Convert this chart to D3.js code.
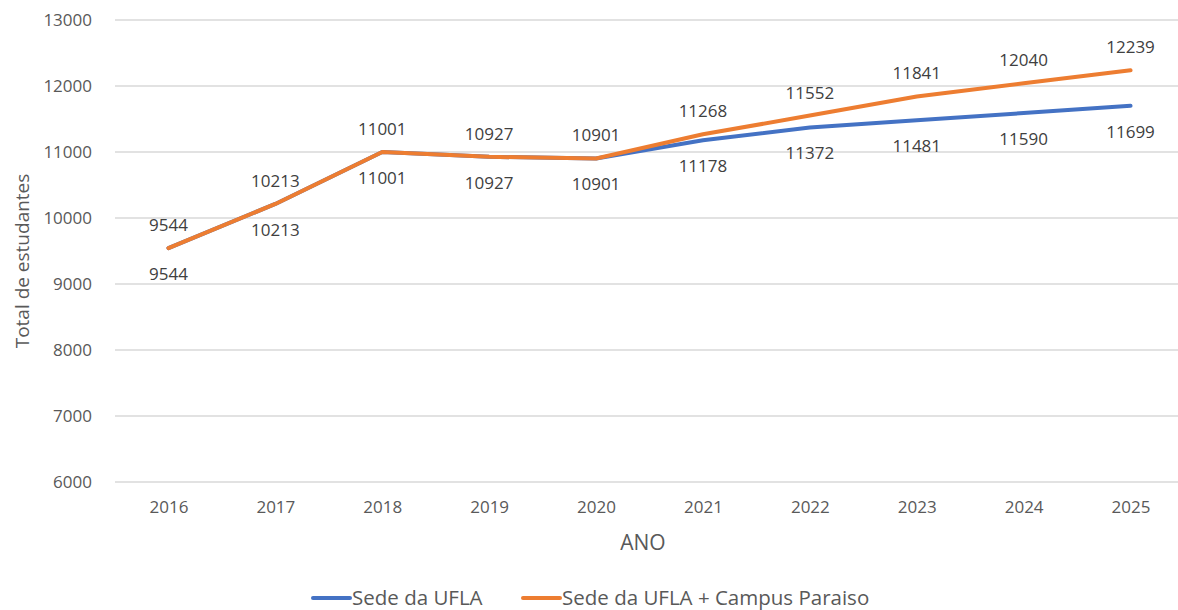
<!DOCTYPE html>
<html>
<head>
<meta charset="utf-8">
<script src="https://cdn.jsdelivr.net/npm/d3@7"></script>
<style>
  body { margin: 0; background: #fff; }
  svg { font-family: "Open Sans", sans-serif; }
</style>
</head>
<body>
<svg width="1178" height="610"></svg>
<script>
// anos e totais de estudantes
var anos = ["2016", "2017", "2018", "2019", "2020", "2021", "2022", "2023", "2024", "2025"];
var sede = [9544, 10213, 11001, 10927, 10901, 11178, 11372, 11481, 11590, 11699];
var sedeParaiso = [9544, 10213, 11001, 10927, 10901, 11268, 11552, 11841, 12040, 12239];
var yTicks = [6000, 7000, 8000, 9000, 10000, 11000, 12000, 13000];

var series = [
  { name: "Sede da UFLA", values: sede, color: "#4472C4", dy: 26 },
  { name: "Sede da UFLA + Campus Paraiso", values: sedeParaiso, color: "#ED7D31", dy: -23 }
];

var svg = d3.select("svg"),
    margin = {top: 20, right: -6, bottom: 128, left: 115},
    width = +svg.attr("width") - margin.left - margin.right,
    height = +svg.attr("height") - margin.top - margin.bottom,
    g = svg.append("g").attr("transform", "translate(" + margin.left + "," + margin.top + ")");

var x = d3.scalePoint().domain(anos).range([0, width]).padding(0.5);
var y = d3.scaleLinear().domain([6000, 13000]).range([height, 0]);

// grade
g.selectAll(".grid").data(yTicks).enter().append("line")
  .attr("x1", 0).attr("x2", width)
  .attr("y1", function(d) { return y(d); }).attr("y2", function(d) { return y(d); })
  .attr("stroke", "#d9d9d9").attr("stroke-width", 1.5);

var yAxis = g.append("g").call(d3.axisLeft(y).tickValues(yTicks).tickSize(0).tickPadding(23).tickFormat(d3.format("d")));
yAxis.select(".domain").remove();
yAxis.selectAll("text").attr("fill", "#595959").style("font-size", "17px").style("font-family", "Open Sans");

var xAxis = g.append("g").attr("transform", "translate(0," + height + ")")
  .call(d3.axisBottom(x).tickSize(0).tickPadding(19));
xAxis.select(".domain").remove();
xAxis.selectAll("text").attr("fill", "#595959").style("font-size", "17px").style("font-family", "Open Sans");

svg.append("text").attr("x", 643).attr("y", 550).attr("text-anchor", "middle")
  .attr("fill", "#595959").style("font-size", "21px").text("ANO");

svg.append("text").attr("transform", "translate(29," + (margin.top + height / 2 + 10) + ") rotate(-90)")
  .attr("text-anchor", "middle").attr("fill", "#595959").style("font-size", "19px").text("Total de estudantes");

var line = d3.line()
  .x(function(d, i) { return x(anos[i]); })
  .y(function(d) { return y(d); });

series.forEach(function(s) {
  g.append("path").attr("d", line(s.values)).attr("fill", "none")
    .attr("stroke", s.color).attr("stroke-width", 4).attr("stroke-linecap", "round").attr("stroke-linejoin", "round");
});

series.forEach(function(s) {
  g.selectAll(null).data(s.values).enter().append("text")
    .attr("x", function(d, i) { return x(anos[i]); })
    .attr("y", function(d) { return y(d) + s.dy; })
    .attr("dy", "0.35em").attr("text-anchor", "middle")
    .attr("fill", "#404040").style("font-size", "17px")
    .text(function(d) { return d; });
});

// legenda
var legX = [313, 523];
series.forEach(function(s, i) {
  var lg = svg.append("g").attr("transform", "translate(" + legX[i] + ",598)");
  lg.append("line").attr("x1", 0).attr("x2", 37).attr("stroke", s.color).attr("stroke-width", 4).attr("stroke-linecap", "round");
  lg.append("text").attr("x", 39).attr("dy", "0.35em").attr("fill", "#595959").style("font-size", "20.5px").text(s.name);
});
</script>
</body>
</html>
